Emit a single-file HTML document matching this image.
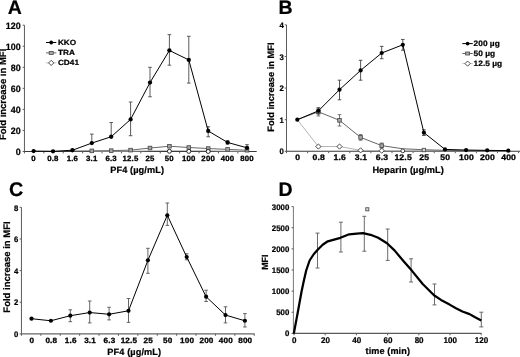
<!DOCTYPE html>
<html><head><meta charset="utf-8"><title>Figure</title>
<style>html,body{margin:0;padding:0;background:#fff;}svg{display:block;will-change:transform;}</style>
</head><body>
<svg width="520" height="357" viewBox="0 0 520 357" font-family="Liberation Sans, sans-serif" font-weight="bold" fill="#000" text-rendering="geometricPrecision">
<style>text{stroke:#000;stroke-width:0.22px;stroke-linejoin:round;}</style>
<rect x="0" y="0" width="520" height="357" fill="#fff"/>
<text x="7.75" y="14.40" font-size="19.5" text-anchor="start" >A</text>
<line x1="24.45" y1="25.20" x2="24.45" y2="151.50" stroke="#5c5c5c" stroke-width="1.0" />
<line x1="23.95" y1="151.50" x2="256.70" y2="151.50" stroke="#3a3a3a" stroke-width="1.1" />
<line x1="22.65" y1="151.50" x2="24.45" y2="151.50" stroke="#5c5c5c" stroke-width="1.0" />
<text transform="translate(20.70,155.11) scale(0.97,1)" font-size="9.2" text-anchor="end" >0</text>
<line x1="22.65" y1="130.45" x2="24.45" y2="130.45" stroke="#5c5c5c" stroke-width="1.0" />
<text transform="translate(20.70,134.06) scale(0.97,1)" font-size="9.2" text-anchor="end" >20</text>
<line x1="22.65" y1="109.40" x2="24.45" y2="109.40" stroke="#5c5c5c" stroke-width="1.0" />
<text transform="translate(20.70,113.01) scale(0.97,1)" font-size="9.2" text-anchor="end" >40</text>
<line x1="22.65" y1="88.35" x2="24.45" y2="88.35" stroke="#5c5c5c" stroke-width="1.0" />
<text transform="translate(20.70,91.96) scale(0.97,1)" font-size="9.2" text-anchor="end" >60</text>
<line x1="22.65" y1="67.30" x2="24.45" y2="67.30" stroke="#5c5c5c" stroke-width="1.0" />
<text transform="translate(20.70,70.91) scale(0.97,1)" font-size="9.2" text-anchor="end" >80</text>
<line x1="22.65" y1="46.25" x2="24.45" y2="46.25" stroke="#5c5c5c" stroke-width="1.0" />
<text transform="translate(20.70,49.86) scale(0.97,1)" font-size="9.2" text-anchor="end" >100</text>
<line x1="22.65" y1="25.20" x2="24.45" y2="25.20" stroke="#5c5c5c" stroke-width="1.0" />
<text transform="translate(20.70,28.81) scale(0.97,1)" font-size="9.2" text-anchor="end" >120</text>
<line x1="24.45" y1="151.50" x2="24.45" y2="153.40" stroke="#5c5c5c" stroke-width="1.0" />
<line x1="43.85" y1="151.50" x2="43.85" y2="153.40" stroke="#5c5c5c" stroke-width="1.0" />
<line x1="63.25" y1="151.50" x2="63.25" y2="153.40" stroke="#5c5c5c" stroke-width="1.0" />
<line x1="82.65" y1="151.50" x2="82.65" y2="153.40" stroke="#5c5c5c" stroke-width="1.0" />
<line x1="102.05" y1="151.50" x2="102.05" y2="153.40" stroke="#5c5c5c" stroke-width="1.0" />
<line x1="121.45" y1="151.50" x2="121.45" y2="153.40" stroke="#5c5c5c" stroke-width="1.0" />
<line x1="140.85" y1="151.50" x2="140.85" y2="153.40" stroke="#5c5c5c" stroke-width="1.0" />
<line x1="160.25" y1="151.50" x2="160.25" y2="153.40" stroke="#5c5c5c" stroke-width="1.0" />
<line x1="179.65" y1="151.50" x2="179.65" y2="153.40" stroke="#5c5c5c" stroke-width="1.0" />
<line x1="199.05" y1="151.50" x2="199.05" y2="153.40" stroke="#5c5c5c" stroke-width="1.0" />
<line x1="218.45" y1="151.50" x2="218.45" y2="153.40" stroke="#5c5c5c" stroke-width="1.0" />
<line x1="237.85" y1="151.50" x2="237.85" y2="153.40" stroke="#5c5c5c" stroke-width="1.0" />
<text transform="translate(33.53,160.65) scale(1.03,1)" font-size="7.6" text-anchor="middle" letter-spacing="0.15" style="stroke-width:0.3px">0</text>
<text transform="translate(52.93,160.65) scale(1.03,1)" font-size="7.6" text-anchor="middle" letter-spacing="0.15" style="stroke-width:0.3px">0.8</text>
<text transform="translate(72.33,160.65) scale(1.03,1)" font-size="7.6" text-anchor="middle" letter-spacing="0.15" style="stroke-width:0.3px">1.6</text>
<text transform="translate(91.73,160.65) scale(1.03,1)" font-size="7.6" text-anchor="middle" letter-spacing="0.15" style="stroke-width:0.3px">3.1</text>
<text transform="translate(111.13,160.65) scale(1.03,1)" font-size="7.6" text-anchor="middle" letter-spacing="0.15" style="stroke-width:0.3px">6.3</text>
<text transform="translate(130.53,160.65) scale(1.03,1)" font-size="7.6" text-anchor="middle" letter-spacing="0.15" style="stroke-width:0.3px">12.5</text>
<text transform="translate(149.93,160.65) scale(1.03,1)" font-size="7.6" text-anchor="middle" letter-spacing="0.15" style="stroke-width:0.3px">25</text>
<text transform="translate(169.33,160.65) scale(1.03,1)" font-size="7.6" text-anchor="middle" letter-spacing="0.15" style="stroke-width:0.3px">50</text>
<text transform="translate(188.73,160.65) scale(1.03,1)" font-size="7.6" text-anchor="middle" letter-spacing="0.15" style="stroke-width:0.3px">100</text>
<text transform="translate(208.13,160.65) scale(1.03,1)" font-size="7.6" text-anchor="middle" letter-spacing="0.15" style="stroke-width:0.3px">200</text>
<text transform="translate(227.53,160.65) scale(1.03,1)" font-size="7.6" text-anchor="middle" letter-spacing="0.15" style="stroke-width:0.3px">400</text>
<text transform="translate(246.93,160.65) scale(1.03,1)" font-size="7.6" text-anchor="middle" letter-spacing="0.15" style="stroke-width:0.3px">800</text>
<text x="137.20" y="173.10" font-size="9.2" text-anchor="middle" letter-spacing="0.1">PF4 (µg/mL)</text>
<text transform="translate(5.50,94.40) rotate(-90)" font-size="9.5" text-anchor="middle">Fold increase in MFI</text>
<polyline points="91.80,151.18 111.20,151.18 130.60,151.08 150.00,150.66 169.40,150.45 188.80,150.55 208.20,150.66 227.60,150.97 247.00,151.08" fill="none" stroke="#bdbdbd" stroke-width="0.9" stroke-linejoin="round" />
<polyline points="72.40,151.08 91.80,150.87 111.20,150.66 130.60,150.13 150.00,148.03 169.40,146.24 188.80,147.50 208.20,148.55 227.60,149.40 247.00,150.24" fill="none" stroke="#686868" stroke-width="1.0" stroke-linejoin="round" />
<rect x="90.00" y="149.07" width="3.6" height="3.6" fill="#a6a6a6" stroke="#4c4c4c" stroke-width="0.85"/>
<rect x="109.40" y="148.86" width="3.6" height="3.6" fill="#a6a6a6" stroke="#4c4c4c" stroke-width="0.85"/>
<rect x="128.80" y="148.33" width="3.6" height="3.6" fill="#a6a6a6" stroke="#4c4c4c" stroke-width="0.85"/>
<rect x="148.20" y="146.23" width="3.6" height="3.6" fill="#a6a6a6" stroke="#4c4c4c" stroke-width="0.85"/>
<rect x="167.60" y="144.44" width="3.6" height="3.6" fill="#a6a6a6" stroke="#4c4c4c" stroke-width="0.85"/>
<rect x="187.00" y="145.70" width="3.6" height="3.6" fill="#a6a6a6" stroke="#4c4c4c" stroke-width="0.85"/>
<rect x="206.40" y="146.75" width="3.6" height="3.6" fill="#a6a6a6" stroke="#4c4c4c" stroke-width="0.85"/>
<rect x="225.80" y="147.59" width="3.6" height="3.6" fill="#a6a6a6" stroke="#4c4c4c" stroke-width="0.85"/>
<rect x="245.20" y="148.44" width="3.6" height="3.6" fill="#a6a6a6" stroke="#4c4c4c" stroke-width="0.85"/>
<circle cx="169.40" cy="151.25" r="2.0" fill="#fff" stroke="#111" stroke-width="0.9"/>
<circle cx="188.80" cy="151.35" r="2.0" fill="#fff" stroke="#111" stroke-width="0.9"/>
<circle cx="208.20" cy="151.46" r="2.0" fill="#fff" stroke="#111" stroke-width="0.9"/>
<line x1="91.80" y1="134.13" x2="91.80" y2="143.08" stroke="#4a4a4a" stroke-width="0.9" />
<line x1="90.00" y1="134.13" x2="93.60" y2="134.13" stroke="#4a4a4a" stroke-width="0.9" />
<line x1="90.00" y1="143.08" x2="93.60" y2="143.08" stroke="#4a4a4a" stroke-width="0.9" />
<line x1="111.20" y1="122.56" x2="111.20" y2="136.76" stroke="#4a4a4a" stroke-width="0.9" />
<line x1="109.40" y1="122.56" x2="113.00" y2="122.56" stroke="#4a4a4a" stroke-width="0.9" />
<line x1="109.40" y1="136.76" x2="113.00" y2="136.76" stroke="#4a4a4a" stroke-width="0.9" />
<line x1="130.60" y1="102.03" x2="130.60" y2="135.71" stroke="#4a4a4a" stroke-width="0.9" />
<line x1="128.80" y1="102.03" x2="132.40" y2="102.03" stroke="#4a4a4a" stroke-width="0.9" />
<line x1="128.80" y1="135.71" x2="132.40" y2="135.71" stroke="#4a4a4a" stroke-width="0.9" />
<line x1="150.00" y1="67.30" x2="150.00" y2="96.77" stroke="#4a4a4a" stroke-width="0.9" />
<line x1="148.20" y1="67.30" x2="151.80" y2="67.30" stroke="#4a4a4a" stroke-width="0.9" />
<line x1="148.20" y1="96.77" x2="151.80" y2="96.77" stroke="#4a4a4a" stroke-width="0.9" />
<line x1="169.40" y1="34.67" x2="169.40" y2="65.20" stroke="#4a4a4a" stroke-width="0.9" />
<line x1="167.60" y1="34.67" x2="171.20" y2="34.67" stroke="#4a4a4a" stroke-width="0.9" />
<line x1="167.60" y1="65.20" x2="171.20" y2="65.20" stroke="#4a4a4a" stroke-width="0.9" />
<line x1="188.80" y1="36.25" x2="188.80" y2="83.09" stroke="#4a4a4a" stroke-width="0.9" />
<line x1="187.00" y1="36.25" x2="190.60" y2="36.25" stroke="#4a4a4a" stroke-width="0.9" />
<line x1="187.00" y1="83.09" x2="190.60" y2="83.09" stroke="#4a4a4a" stroke-width="0.9" />
<line x1="208.20" y1="126.77" x2="208.20" y2="136.76" stroke="#4a4a4a" stroke-width="0.9" />
<line x1="206.40" y1="126.77" x2="210.00" y2="126.77" stroke="#4a4a4a" stroke-width="0.9" />
<line x1="206.40" y1="136.76" x2="210.00" y2="136.76" stroke="#4a4a4a" stroke-width="0.9" />
<line x1="227.60" y1="140.97" x2="227.60" y2="144.13" stroke="#4a4a4a" stroke-width="0.9" />
<line x1="225.80" y1="140.97" x2="229.40" y2="140.97" stroke="#4a4a4a" stroke-width="0.9" />
<line x1="225.80" y1="144.13" x2="229.40" y2="144.13" stroke="#4a4a4a" stroke-width="0.9" />
<line x1="247.00" y1="144.66" x2="247.00" y2="149.92" stroke="#4a4a4a" stroke-width="0.9" />
<line x1="245.20" y1="144.66" x2="248.80" y2="144.66" stroke="#4a4a4a" stroke-width="0.9" />
<line x1="245.20" y1="149.92" x2="248.80" y2="149.92" stroke="#4a4a4a" stroke-width="0.9" />
<polyline points="33.60,151.08 53.00,151.29 72.40,150.24 91.80,143.08 111.20,136.76 130.60,119.40 150.00,82.56 169.40,50.46 188.80,59.93 208.20,130.98 227.60,142.45 247.00,147.82" fill="none" stroke="#000" stroke-width="1.0" stroke-linejoin="round" />
<circle cx="33.60" cy="151.08" r="2.15" fill="#000" stroke="none" stroke-width="0"/>
<circle cx="53.00" cy="151.29" r="2.15" fill="#000" stroke="none" stroke-width="0"/>
<circle cx="72.40" cy="150.24" r="2.15" fill="#000" stroke="none" stroke-width="0"/>
<circle cx="91.80" cy="143.08" r="2.15" fill="#000" stroke="none" stroke-width="0"/>
<circle cx="111.20" cy="136.76" r="2.15" fill="#000" stroke="none" stroke-width="0"/>
<circle cx="130.60" cy="119.40" r="2.15" fill="#000" stroke="none" stroke-width="0"/>
<circle cx="150.00" cy="82.56" r="2.15" fill="#000" stroke="none" stroke-width="0"/>
<circle cx="169.40" cy="50.46" r="2.15" fill="#000" stroke="none" stroke-width="0"/>
<circle cx="188.80" cy="59.93" r="2.15" fill="#000" stroke="none" stroke-width="0"/>
<circle cx="208.20" cy="130.98" r="2.15" fill="#000" stroke="none" stroke-width="0"/>
<circle cx="227.60" cy="142.45" r="2.15" fill="#000" stroke="none" stroke-width="0"/>
<circle cx="247.00" cy="147.82" r="2.15" fill="#000" stroke="none" stroke-width="0"/>
<line x1="46.00" y1="42.50" x2="56.30" y2="42.50" stroke="#000" stroke-width="1.0" />
<circle cx="51.20" cy="42.50" r="1.9" fill="#000" stroke="none" stroke-width="0"/>
<text transform="translate(57.90,44.90) scale(1.1,1)" font-size="7.5" text-anchor="start" >KKO</text>
<line x1="46.00" y1="52.90" x2="56.30" y2="52.90" stroke="#666" stroke-width="1.0" />
<rect x="49.20" y="51.40" width="4.0" height="3.0" fill="#a8a8a8" stroke="#4a4a4a" stroke-width="0.8"/>
<text transform="translate(57.90,55.10) scale(1.1,1)" font-size="7.5" text-anchor="start" >TRA</text>
<line x1="46.00" y1="62.90" x2="56.30" y2="62.90" stroke="#c0c0c0" stroke-width="1.0" />
<path d="M48.60,62.90 L51.20,60.30 L53.80,62.90 L51.20,65.50 Z" fill="#fff" stroke="#222" stroke-width="0.8"/>
<text transform="translate(57.90,65.40) scale(1.1,1)" font-size="7.5" text-anchor="start" >CD41</text>
<text x="278.40" y="14.40" font-size="19.5" text-anchor="start" >B</text>
<line x1="286.50" y1="24.90" x2="286.50" y2="151.30" stroke="#5c5c5c" stroke-width="1.0" />
<line x1="286.00" y1="151.30" x2="520.00" y2="151.30" stroke="#3a3a3a" stroke-width="1.1" />
<line x1="284.70" y1="151.30" x2="286.50" y2="151.30" stroke="#5c5c5c" stroke-width="1.0" />
<text transform="translate(283.70,154.48) scale(0.97,1)" font-size="8" text-anchor="end" >0</text>
<line x1="284.70" y1="119.70" x2="286.50" y2="119.70" stroke="#5c5c5c" stroke-width="1.0" />
<text transform="translate(283.70,122.88) scale(0.97,1)" font-size="8" text-anchor="end" >1</text>
<line x1="284.70" y1="88.10" x2="286.50" y2="88.10" stroke="#5c5c5c" stroke-width="1.0" />
<text transform="translate(283.70,91.28) scale(0.97,1)" font-size="8" text-anchor="end" >2</text>
<line x1="284.70" y1="56.50" x2="286.50" y2="56.50" stroke="#5c5c5c" stroke-width="1.0" />
<text transform="translate(283.70,59.68) scale(0.97,1)" font-size="8" text-anchor="end" >3</text>
<line x1="284.70" y1="24.90" x2="286.50" y2="24.90" stroke="#5c5c5c" stroke-width="1.0" />
<text transform="translate(283.70,28.08) scale(0.97,1)" font-size="8" text-anchor="end" >4</text>
<line x1="286.50" y1="151.30" x2="286.50" y2="153.20" stroke="#5c5c5c" stroke-width="1.0" />
<line x1="307.60" y1="151.30" x2="307.60" y2="153.20" stroke="#5c5c5c" stroke-width="1.0" />
<line x1="328.70" y1="151.30" x2="328.70" y2="153.20" stroke="#5c5c5c" stroke-width="1.0" />
<line x1="349.80" y1="151.30" x2="349.80" y2="153.20" stroke="#5c5c5c" stroke-width="1.0" />
<line x1="370.90" y1="151.30" x2="370.90" y2="153.20" stroke="#5c5c5c" stroke-width="1.0" />
<line x1="392.00" y1="151.30" x2="392.00" y2="153.20" stroke="#5c5c5c" stroke-width="1.0" />
<line x1="413.10" y1="151.30" x2="413.10" y2="153.20" stroke="#5c5c5c" stroke-width="1.0" />
<line x1="434.20" y1="151.30" x2="434.20" y2="153.20" stroke="#5c5c5c" stroke-width="1.0" />
<line x1="455.30" y1="151.30" x2="455.30" y2="153.20" stroke="#5c5c5c" stroke-width="1.0" />
<line x1="476.40" y1="151.30" x2="476.40" y2="153.20" stroke="#5c5c5c" stroke-width="1.0" />
<line x1="497.50" y1="151.30" x2="497.50" y2="153.20" stroke="#5c5c5c" stroke-width="1.0" />
<line x1="518.60" y1="151.30" x2="518.60" y2="153.20" stroke="#5c5c5c" stroke-width="1.0" />
<text transform="translate(297.63,159.50) scale(1.08,1)" font-size="8.0" text-anchor="middle" letter-spacing="0.15" style="stroke-width:0.3px">0</text>
<text transform="translate(318.73,159.50) scale(1.08,1)" font-size="8.0" text-anchor="middle" letter-spacing="0.15" style="stroke-width:0.3px">0.8</text>
<text transform="translate(339.83,159.50) scale(1.08,1)" font-size="8.0" text-anchor="middle" letter-spacing="0.15" style="stroke-width:0.3px">1.6</text>
<text transform="translate(360.93,159.50) scale(1.08,1)" font-size="8.0" text-anchor="middle" letter-spacing="0.15" style="stroke-width:0.3px">3.1</text>
<text transform="translate(382.03,159.50) scale(1.08,1)" font-size="8.0" text-anchor="middle" letter-spacing="0.15" style="stroke-width:0.3px">6.3</text>
<text transform="translate(403.13,159.50) scale(1.08,1)" font-size="8.0" text-anchor="middle" letter-spacing="0.15" style="stroke-width:0.3px">12.5</text>
<text transform="translate(424.23,159.50) scale(1.08,1)" font-size="8.0" text-anchor="middle" letter-spacing="0.15" style="stroke-width:0.3px">25</text>
<text transform="translate(445.33,159.50) scale(1.08,1)" font-size="8.0" text-anchor="middle" letter-spacing="0.15" style="stroke-width:0.3px">50</text>
<text transform="translate(466.43,159.50) scale(1.08,1)" font-size="8.0" text-anchor="middle" letter-spacing="0.15" style="stroke-width:0.3px">100</text>
<text transform="translate(487.53,159.50) scale(1.08,1)" font-size="8.0" text-anchor="middle" letter-spacing="0.15" style="stroke-width:0.3px">200</text>
<text transform="translate(508.63,159.50) scale(1.08,1)" font-size="8.0" text-anchor="middle" letter-spacing="0.15" style="stroke-width:0.3px">400</text>
<text x="408.20" y="172.60" font-size="9.2" text-anchor="middle" letter-spacing="0.1">Heparin (µg/mL)</text>
<text transform="translate(273.90,87.10) rotate(-90)" font-size="9.3" text-anchor="middle">Fold increase in MFI</text>
<polyline points="297.30,119.70 318.40,146.56 339.50,146.56 360.60,150.35 381.70,150.67 402.80,150.67 423.90,150.67 445.00,150.67 466.10,150.67 487.20,150.67 508.30,150.67" fill="none" stroke="#b4b4b4" stroke-width="1.0" stroke-linejoin="round" />
<line x1="318.40" y1="108.32" x2="318.40" y2="115.91" stroke="#666" stroke-width="0.9" />
<line x1="316.60" y1="108.32" x2="320.20" y2="108.32" stroke="#666" stroke-width="0.9" />
<line x1="316.60" y1="115.91" x2="320.20" y2="115.91" stroke="#666" stroke-width="0.9" />
<line x1="339.50" y1="114.64" x2="339.50" y2="126.02" stroke="#666" stroke-width="0.9" />
<line x1="337.70" y1="114.64" x2="341.30" y2="114.64" stroke="#666" stroke-width="0.9" />
<line x1="337.70" y1="126.02" x2="341.30" y2="126.02" stroke="#666" stroke-width="0.9" />
<line x1="360.60" y1="134.55" x2="360.60" y2="140.24" stroke="#666" stroke-width="0.9" />
<line x1="358.80" y1="134.55" x2="362.40" y2="134.55" stroke="#666" stroke-width="0.9" />
<line x1="358.80" y1="140.24" x2="362.40" y2="140.24" stroke="#666" stroke-width="0.9" />
<line x1="381.70" y1="143.08" x2="381.70" y2="148.14" stroke="#666" stroke-width="0.9" />
<line x1="379.90" y1="143.08" x2="383.50" y2="143.08" stroke="#666" stroke-width="0.9" />
<line x1="379.90" y1="148.14" x2="383.50" y2="148.14" stroke="#666" stroke-width="0.9" />
<polyline points="297.30,119.70 318.40,111.80 339.50,120.33 360.60,137.40 381.70,145.61 402.80,148.77 423.90,149.72 445.00,150.35 466.10,150.67 487.20,150.67 508.30,150.67" fill="none" stroke="#666" stroke-width="1.0" stroke-linejoin="round" />
<rect x="316.60" y="110.00" width="3.6" height="3.6" fill="#a6a6a6" stroke="#4c4c4c" stroke-width="0.85"/>
<rect x="337.70" y="118.53" width="3.6" height="3.6" fill="#a6a6a6" stroke="#4c4c4c" stroke-width="0.85"/>
<rect x="358.80" y="135.60" width="3.6" height="3.6" fill="#a6a6a6" stroke="#4c4c4c" stroke-width="0.85"/>
<rect x="379.90" y="143.81" width="3.6" height="3.6" fill="#a6a6a6" stroke="#4c4c4c" stroke-width="0.85"/>
<rect x="422.20" y="148.32" width="3.4" height="3.4" fill="#d4d4d4" stroke="#555" stroke-width="0.9"/>
<path d="M315.80,146.56 L318.40,143.96 L321.00,146.56 L318.40,149.16 Z" fill="#fff" stroke="#222" stroke-width="0.8"/>
<path d="M336.90,146.56 L339.50,143.96 L342.10,146.56 L339.50,149.16 Z" fill="#fff" stroke="#222" stroke-width="0.8"/>
<path d="M358.00,150.35 L360.60,147.75 L363.20,150.35 L360.60,152.95 Z" fill="#fff" stroke="#222" stroke-width="0.8"/>
<path d="M379.10,150.67 L381.70,148.07 L384.30,150.67 L381.70,153.27 Z" fill="#fff" stroke="#222" stroke-width="0.8"/>
<circle cx="402.80" cy="150.87" r="1.9" fill="#fff" stroke="#222" stroke-width="0.85"/>
<line x1="318.40" y1="107.69" x2="318.40" y2="114.01" stroke="#444" stroke-width="0.9" />
<line x1="316.60" y1="107.69" x2="320.20" y2="107.69" stroke="#444" stroke-width="0.9" />
<line x1="316.60" y1="114.01" x2="320.20" y2="114.01" stroke="#444" stroke-width="0.9" />
<line x1="339.50" y1="80.20" x2="339.50" y2="99.79" stroke="#444" stroke-width="0.9" />
<line x1="337.70" y1="80.20" x2="341.30" y2="80.20" stroke="#444" stroke-width="0.9" />
<line x1="337.70" y1="99.79" x2="341.30" y2="99.79" stroke="#444" stroke-width="0.9" />
<line x1="360.60" y1="60.29" x2="360.60" y2="80.20" stroke="#444" stroke-width="0.9" />
<line x1="358.80" y1="60.29" x2="362.40" y2="60.29" stroke="#444" stroke-width="0.9" />
<line x1="358.80" y1="80.20" x2="362.40" y2="80.20" stroke="#444" stroke-width="0.9" />
<line x1="381.70" y1="46.39" x2="381.70" y2="58.71" stroke="#444" stroke-width="0.9" />
<line x1="379.90" y1="46.39" x2="383.50" y2="46.39" stroke="#444" stroke-width="0.9" />
<line x1="379.90" y1="58.71" x2="383.50" y2="58.71" stroke="#444" stroke-width="0.9" />
<line x1="402.80" y1="39.44" x2="402.80" y2="50.18" stroke="#444" stroke-width="0.9" />
<line x1="401.00" y1="39.44" x2="404.60" y2="39.44" stroke="#444" stroke-width="0.9" />
<line x1="401.00" y1="50.18" x2="404.60" y2="50.18" stroke="#444" stroke-width="0.9" />
<line x1="423.90" y1="129.81" x2="423.90" y2="135.50" stroke="#444" stroke-width="0.9" />
<line x1="422.10" y1="129.81" x2="425.70" y2="129.81" stroke="#444" stroke-width="0.9" />
<line x1="422.10" y1="135.50" x2="425.70" y2="135.50" stroke="#444" stroke-width="0.9" />
<polyline points="297.30,119.70 318.40,110.85 339.50,89.68 360.60,70.40 381.70,53.02 402.80,44.81 423.90,132.66 445.00,149.40 466.10,150.04 487.20,150.35 508.30,150.67" fill="none" stroke="#000" stroke-width="1.0" stroke-linejoin="round" />
<circle cx="297.30" cy="119.70" r="2.1" fill="#000" stroke="none" stroke-width="0"/>
<circle cx="318.40" cy="110.85" r="2.1" fill="#000" stroke="none" stroke-width="0"/>
<circle cx="339.50" cy="89.68" r="2.1" fill="#000" stroke="none" stroke-width="0"/>
<circle cx="360.60" cy="70.40" r="2.1" fill="#000" stroke="none" stroke-width="0"/>
<circle cx="381.70" cy="53.02" r="2.1" fill="#000" stroke="none" stroke-width="0"/>
<circle cx="402.80" cy="44.81" r="2.1" fill="#000" stroke="none" stroke-width="0"/>
<circle cx="423.90" cy="132.66" r="2.1" fill="#000" stroke="none" stroke-width="0"/>
<circle cx="445.00" cy="149.40" r="2.1" fill="#000" stroke="none" stroke-width="0"/>
<circle cx="466.10" cy="150.04" r="2.1" fill="#000" stroke="none" stroke-width="0"/>
<circle cx="487.20" cy="150.35" r="2.1" fill="#000" stroke="none" stroke-width="0"/>
<circle cx="508.30" cy="150.67" r="2.1" fill="#000" stroke="none" stroke-width="0"/>
<line x1="462.30" y1="43.60" x2="472.80" y2="43.60" stroke="#000" stroke-width="1.0" />
<circle cx="467.60" cy="43.60" r="1.9" fill="#000" stroke="none" stroke-width="0"/>
<text transform="translate(473.60,45.90) scale(1.07,1)" font-size="7.8" text-anchor="start" >200 µg</text>
<line x1="462.30" y1="53.50" x2="472.80" y2="53.50" stroke="#666" stroke-width="1.0" />
<rect x="465.60" y="52.00" width="4.0" height="3.0" fill="#a8a8a8" stroke="#4a4a4a" stroke-width="0.8"/>
<text transform="translate(473.60,56.10) scale(1.07,1)" font-size="7.8" text-anchor="start" >50 µg</text>
<line x1="462.30" y1="63.60" x2="472.80" y2="63.60" stroke="#c0c0c0" stroke-width="1.0" />
<path d="M465.00,63.60 L467.60,61.00 L470.20,63.60 L467.60,66.20 Z" fill="#fff" stroke="#222" stroke-width="0.8"/>
<text transform="translate(473.60,66.40) scale(1.07,1)" font-size="7.8" text-anchor="start" >12.5 µg</text>
<text x="8.90" y="195.70" font-size="19.8" text-anchor="start" >C</text>
<line x1="21.45" y1="207.34" x2="21.45" y2="333.90" stroke="#5c5c5c" stroke-width="1.0" />
<line x1="20.95" y1="333.90" x2="254.60" y2="333.90" stroke="#666" stroke-width="1.3" />
<line x1="19.65" y1="333.90" x2="21.45" y2="333.90" stroke="#5c5c5c" stroke-width="1.0" />
<text transform="translate(18.40,337.08) scale(0.97,1)" font-size="8" text-anchor="end" >0</text>
<line x1="19.65" y1="302.26" x2="21.45" y2="302.26" stroke="#5c5c5c" stroke-width="1.0" />
<text transform="translate(18.40,305.44) scale(0.97,1)" font-size="8" text-anchor="end" >2</text>
<line x1="19.65" y1="270.62" x2="21.45" y2="270.62" stroke="#5c5c5c" stroke-width="1.0" />
<text transform="translate(18.40,273.80) scale(0.97,1)" font-size="8" text-anchor="end" >4</text>
<line x1="19.65" y1="238.98" x2="21.45" y2="238.98" stroke="#5c5c5c" stroke-width="1.0" />
<text transform="translate(18.40,242.16) scale(0.97,1)" font-size="8" text-anchor="end" >6</text>
<line x1="19.65" y1="207.34" x2="21.45" y2="207.34" stroke="#5c5c5c" stroke-width="1.0" />
<text transform="translate(18.40,210.52) scale(0.97,1)" font-size="8" text-anchor="end" >8</text>
<line x1="21.45" y1="333.90" x2="21.45" y2="335.80" stroke="#5c5c5c" stroke-width="1.0" />
<line x1="40.85" y1="333.90" x2="40.85" y2="335.80" stroke="#5c5c5c" stroke-width="1.0" />
<line x1="60.25" y1="333.90" x2="60.25" y2="335.80" stroke="#5c5c5c" stroke-width="1.0" />
<line x1="79.65" y1="333.90" x2="79.65" y2="335.80" stroke="#5c5c5c" stroke-width="1.0" />
<line x1="99.05" y1="333.90" x2="99.05" y2="335.80" stroke="#5c5c5c" stroke-width="1.0" />
<line x1="118.45" y1="333.90" x2="118.45" y2="335.80" stroke="#5c5c5c" stroke-width="1.0" />
<line x1="137.85" y1="333.90" x2="137.85" y2="335.80" stroke="#5c5c5c" stroke-width="1.0" />
<line x1="157.25" y1="333.90" x2="157.25" y2="335.80" stroke="#5c5c5c" stroke-width="1.0" />
<line x1="176.65" y1="333.90" x2="176.65" y2="335.80" stroke="#5c5c5c" stroke-width="1.0" />
<line x1="196.05" y1="333.90" x2="196.05" y2="335.80" stroke="#5c5c5c" stroke-width="1.0" />
<line x1="215.45" y1="333.90" x2="215.45" y2="335.80" stroke="#5c5c5c" stroke-width="1.0" />
<line x1="234.85" y1="333.90" x2="234.85" y2="335.80" stroke="#5c5c5c" stroke-width="1.0" />
<line x1="254.25" y1="333.90" x2="254.25" y2="335.80" stroke="#5c5c5c" stroke-width="1.0" />
<text transform="translate(31.88,343.05) scale(1.06,1)" font-size="7.7" text-anchor="middle" letter-spacing="0.15" style="stroke-width:0.3px">0</text>
<text transform="translate(51.28,343.05) scale(1.06,1)" font-size="7.7" text-anchor="middle" letter-spacing="0.15" style="stroke-width:0.3px">0.8</text>
<text transform="translate(70.68,343.05) scale(1.06,1)" font-size="7.7" text-anchor="middle" letter-spacing="0.15" style="stroke-width:0.3px">1.6</text>
<text transform="translate(90.08,343.05) scale(1.06,1)" font-size="7.7" text-anchor="middle" letter-spacing="0.15" style="stroke-width:0.3px">3.1</text>
<text transform="translate(109.48,343.05) scale(1.06,1)" font-size="7.7" text-anchor="middle" letter-spacing="0.15" style="stroke-width:0.3px">6.3</text>
<text transform="translate(128.88,343.05) scale(1.06,1)" font-size="7.7" text-anchor="middle" letter-spacing="0.15" style="stroke-width:0.3px">12.5</text>
<text transform="translate(148.28,343.05) scale(1.06,1)" font-size="7.7" text-anchor="middle" letter-spacing="0.15" style="stroke-width:0.3px">25</text>
<text transform="translate(167.68,343.05) scale(1.06,1)" font-size="7.7" text-anchor="middle" letter-spacing="0.15" style="stroke-width:0.3px">50</text>
<text transform="translate(187.08,343.05) scale(1.06,1)" font-size="7.7" text-anchor="middle" letter-spacing="0.15" style="stroke-width:0.3px">100</text>
<text transform="translate(206.48,343.05) scale(1.06,1)" font-size="7.7" text-anchor="middle" letter-spacing="0.15" style="stroke-width:0.3px">200</text>
<text transform="translate(225.88,343.05) scale(1.06,1)" font-size="7.7" text-anchor="middle" letter-spacing="0.15" style="stroke-width:0.3px">400</text>
<text transform="translate(245.28,343.05) scale(1.06,1)" font-size="7.7" text-anchor="middle" letter-spacing="0.15" style="stroke-width:0.3px">800</text>
<text x="134.30" y="354.50" font-size="9.2" text-anchor="middle" letter-spacing="0.1">PF4 (µg/mL)</text>
<text transform="translate(10.40,267.00) rotate(-90)" font-size="9.5" text-anchor="middle">Fold increase in MFI</text>
<line x1="70.30" y1="309.80" x2="70.30" y2="321.70" stroke="#555" stroke-width="0.9" />
<line x1="68.50" y1="309.80" x2="72.10" y2="309.80" stroke="#555" stroke-width="0.9" />
<line x1="68.50" y1="321.70" x2="72.10" y2="321.70" stroke="#555" stroke-width="0.9" />
<line x1="89.70" y1="301.00" x2="89.70" y2="322.90" stroke="#555" stroke-width="0.9" />
<line x1="87.90" y1="301.00" x2="91.50" y2="301.00" stroke="#555" stroke-width="0.9" />
<line x1="87.90" y1="322.90" x2="91.50" y2="322.90" stroke="#555" stroke-width="0.9" />
<line x1="109.10" y1="307.30" x2="109.10" y2="319.90" stroke="#555" stroke-width="0.9" />
<line x1="107.30" y1="307.30" x2="110.90" y2="307.30" stroke="#555" stroke-width="0.9" />
<line x1="107.30" y1="319.90" x2="110.90" y2="319.90" stroke="#555" stroke-width="0.9" />
<line x1="128.50" y1="298.50" x2="128.50" y2="322.40" stroke="#555" stroke-width="0.9" />
<line x1="126.70" y1="298.50" x2="130.30" y2="298.50" stroke="#555" stroke-width="0.9" />
<line x1="126.70" y1="322.40" x2="130.30" y2="322.40" stroke="#555" stroke-width="0.9" />
<line x1="147.90" y1="248.30" x2="147.90" y2="273.30" stroke="#555" stroke-width="0.9" />
<line x1="146.10" y1="248.30" x2="149.70" y2="248.30" stroke="#555" stroke-width="0.9" />
<line x1="146.10" y1="273.30" x2="149.70" y2="273.30" stroke="#555" stroke-width="0.9" />
<line x1="167.30" y1="203.00" x2="167.30" y2="225.40" stroke="#555" stroke-width="0.9" />
<line x1="165.50" y1="203.00" x2="169.10" y2="203.00" stroke="#555" stroke-width="0.9" />
<line x1="165.50" y1="225.40" x2="169.10" y2="225.40" stroke="#555" stroke-width="0.9" />
<line x1="186.70" y1="253.80" x2="186.70" y2="259.80" stroke="#555" stroke-width="0.9" />
<line x1="184.90" y1="253.80" x2="188.50" y2="253.80" stroke="#555" stroke-width="0.9" />
<line x1="184.90" y1="259.80" x2="188.50" y2="259.80" stroke="#555" stroke-width="0.9" />
<line x1="206.10" y1="290.20" x2="206.10" y2="301.50" stroke="#555" stroke-width="0.9" />
<line x1="204.30" y1="290.20" x2="207.90" y2="290.20" stroke="#555" stroke-width="0.9" />
<line x1="204.30" y1="301.50" x2="207.90" y2="301.50" stroke="#555" stroke-width="0.9" />
<line x1="225.50" y1="306.80" x2="225.50" y2="322.90" stroke="#555" stroke-width="0.9" />
<line x1="223.70" y1="306.80" x2="227.30" y2="306.80" stroke="#555" stroke-width="0.9" />
<line x1="223.70" y1="322.90" x2="227.30" y2="322.90" stroke="#555" stroke-width="0.9" />
<line x1="244.90" y1="313.60" x2="244.90" y2="327.00" stroke="#555" stroke-width="0.9" />
<line x1="243.10" y1="313.60" x2="246.70" y2="313.60" stroke="#555" stroke-width="0.9" />
<line x1="243.10" y1="327.00" x2="246.70" y2="327.00" stroke="#555" stroke-width="0.9" />
<polyline points="31.50,318.71 50.90,320.77 70.30,315.71 89.70,312.54 109.10,314.28 128.50,310.80 147.90,260.34 167.30,215.25 186.70,257.01 206.10,296.72 225.50,315.07 244.90,320.77" fill="none" stroke="#000" stroke-width="1.0" stroke-linejoin="round" />
<circle cx="31.50" cy="318.71" r="2.1" fill="#000" stroke="none" stroke-width="0"/>
<circle cx="50.90" cy="320.77" r="2.1" fill="#000" stroke="none" stroke-width="0"/>
<circle cx="70.30" cy="315.71" r="2.1" fill="#000" stroke="none" stroke-width="0"/>
<circle cx="89.70" cy="312.54" r="2.1" fill="#000" stroke="none" stroke-width="0"/>
<circle cx="109.10" cy="314.28" r="2.1" fill="#000" stroke="none" stroke-width="0"/>
<circle cx="128.50" cy="310.80" r="2.1" fill="#000" stroke="none" stroke-width="0"/>
<circle cx="147.90" cy="260.34" r="2.1" fill="#000" stroke="none" stroke-width="0"/>
<circle cx="167.30" cy="215.25" r="2.1" fill="#000" stroke="none" stroke-width="0"/>
<circle cx="186.70" cy="257.01" r="2.1" fill="#000" stroke="none" stroke-width="0"/>
<circle cx="206.10" cy="296.72" r="2.1" fill="#000" stroke="none" stroke-width="0"/>
<circle cx="225.50" cy="315.07" r="2.1" fill="#000" stroke="none" stroke-width="0"/>
<circle cx="244.90" cy="320.77" r="2.1" fill="#000" stroke="none" stroke-width="0"/>
<text x="278.40" y="195.50" font-size="19.5" text-anchor="start" >D</text>
<line x1="293.40" y1="206.59" x2="293.40" y2="333.40" stroke="#777" stroke-width="1.0" />
<line x1="292.90" y1="333.40" x2="481.50" y2="333.40" stroke="#5a5a5a" stroke-width="1.1" />
<line x1="291.60" y1="333.40" x2="293.40" y2="333.40" stroke="#5c5c5c" stroke-width="1.0" />
<text transform="translate(289.30,335.62) scale(0.98,1)" font-size="8" text-anchor="end" >0</text>
<line x1="291.60" y1="312.26" x2="293.40" y2="312.26" stroke="#5c5c5c" stroke-width="1.0" />
<text transform="translate(289.30,314.65) scale(0.98,1)" font-size="8" text-anchor="end" >500</text>
<line x1="291.60" y1="291.13" x2="293.40" y2="291.13" stroke="#5c5c5c" stroke-width="1.0" />
<text transform="translate(289.30,293.69) scale(0.98,1)" font-size="8" text-anchor="end" >1000</text>
<line x1="291.60" y1="270.00" x2="293.40" y2="270.00" stroke="#5c5c5c" stroke-width="1.0" />
<text transform="translate(289.30,272.72) scale(0.98,1)" font-size="8" text-anchor="end" >1500</text>
<line x1="291.60" y1="248.86" x2="293.40" y2="248.86" stroke="#5c5c5c" stroke-width="1.0" />
<text transform="translate(289.30,251.75) scale(0.98,1)" font-size="8" text-anchor="end" >2000</text>
<line x1="291.60" y1="227.72" x2="293.40" y2="227.72" stroke="#5c5c5c" stroke-width="1.0" />
<text transform="translate(289.30,230.79) scale(0.98,1)" font-size="8" text-anchor="end" >2500</text>
<line x1="291.60" y1="206.59" x2="293.40" y2="206.59" stroke="#5c5c5c" stroke-width="1.0" />
<text transform="translate(289.30,209.82) scale(0.98,1)" font-size="8" text-anchor="end" >3000</text>
<line x1="294.00" y1="333.40" x2="294.00" y2="335.30" stroke="#5c5c5c" stroke-width="1.0" />
<text transform="translate(294.30,342.80) scale(0.97,1)" font-size="8.3" text-anchor="middle" >0</text>
<line x1="325.20" y1="333.40" x2="325.20" y2="335.30" stroke="#5c5c5c" stroke-width="1.0" />
<text transform="translate(325.50,342.80) scale(0.97,1)" font-size="8.3" text-anchor="middle" >20</text>
<line x1="356.40" y1="333.40" x2="356.40" y2="335.30" stroke="#5c5c5c" stroke-width="1.0" />
<text transform="translate(356.70,342.80) scale(0.97,1)" font-size="8.3" text-anchor="middle" >40</text>
<line x1="387.60" y1="333.40" x2="387.60" y2="335.30" stroke="#5c5c5c" stroke-width="1.0" />
<text transform="translate(387.90,342.80) scale(0.97,1)" font-size="8.3" text-anchor="middle" >60</text>
<line x1="418.80" y1="333.40" x2="418.80" y2="335.30" stroke="#5c5c5c" stroke-width="1.0" />
<text transform="translate(419.10,342.80) scale(0.97,1)" font-size="8.3" text-anchor="middle" >80</text>
<line x1="450.00" y1="333.40" x2="450.00" y2="335.30" stroke="#5c5c5c" stroke-width="1.0" />
<text transform="translate(450.30,342.80) scale(0.97,1)" font-size="8.3" text-anchor="middle" >100</text>
<line x1="481.20" y1="333.40" x2="481.20" y2="335.30" stroke="#5c5c5c" stroke-width="1.0" />
<text transform="translate(481.50,342.80) scale(0.97,1)" font-size="8.3" text-anchor="middle" >120</text>
<text x="387.80" y="354.30" font-size="9.1" text-anchor="middle" letter-spacing="0.1">time (min)</text>
<text transform="translate(267.70,262.20) rotate(-90)" font-size="8.9" text-anchor="middle">MFI</text>
<line x1="317.50" y1="233.10" x2="317.50" y2="268.00" stroke="#5a5a5a" stroke-width="0.9" />
<line x1="315.50" y1="233.10" x2="319.50" y2="233.10" stroke="#5a5a5a" stroke-width="0.9" />
<line x1="315.50" y1="268.00" x2="319.50" y2="268.00" stroke="#5a5a5a" stroke-width="0.9" />
<line x1="340.90" y1="222.20" x2="340.90" y2="252.00" stroke="#5a5a5a" stroke-width="0.9" />
<line x1="338.90" y1="222.20" x2="342.90" y2="222.20" stroke="#5a5a5a" stroke-width="0.9" />
<line x1="338.90" y1="252.00" x2="342.90" y2="252.00" stroke="#5a5a5a" stroke-width="0.9" />
<line x1="364.30" y1="216.30" x2="364.30" y2="251.20" stroke="#5a5a5a" stroke-width="0.9" />
<line x1="362.30" y1="216.30" x2="366.30" y2="216.30" stroke="#5a5a5a" stroke-width="0.9" />
<line x1="362.30" y1="251.20" x2="366.30" y2="251.20" stroke="#5a5a5a" stroke-width="0.9" />
<line x1="387.70" y1="229.00" x2="387.70" y2="260.40" stroke="#5a5a5a" stroke-width="0.9" />
<line x1="385.70" y1="229.00" x2="389.70" y2="229.00" stroke="#5a5a5a" stroke-width="0.9" />
<line x1="385.70" y1="260.40" x2="389.70" y2="260.40" stroke="#5a5a5a" stroke-width="0.9" />
<line x1="411.10" y1="258.80" x2="411.10" y2="282.00" stroke="#5a5a5a" stroke-width="0.9" />
<line x1="409.10" y1="258.80" x2="413.10" y2="258.80" stroke="#5a5a5a" stroke-width="0.9" />
<line x1="409.10" y1="282.00" x2="413.10" y2="282.00" stroke="#5a5a5a" stroke-width="0.9" />
<line x1="434.50" y1="284.00" x2="434.50" y2="304.90" stroke="#5a5a5a" stroke-width="0.9" />
<line x1="432.50" y1="284.00" x2="436.50" y2="284.00" stroke="#5a5a5a" stroke-width="0.9" />
<line x1="432.50" y1="304.90" x2="436.50" y2="304.90" stroke="#5a5a5a" stroke-width="0.9" />
<line x1="481.30" y1="312.20" x2="481.30" y2="326.90" stroke="#5a5a5a" stroke-width="0.9" />
<line x1="479.30" y1="312.20" x2="483.30" y2="312.20" stroke="#5a5a5a" stroke-width="0.9" />
<line x1="479.30" y1="326.90" x2="483.30" y2="326.90" stroke="#5a5a5a" stroke-width="0.9" />
<polyline points="293.80,333.60 297.80,312.20 301.60,291.20 303.90,280.60 306.20,270.50 309.60,260.50 313.90,254.00 317.70,249.80 322.70,244.80 327.80,241.30 334.10,239.60 340.40,237.80 349.20,234.30 356.80,233.60 363.00,233.20 370.60,234.80 378.20,237.80 387.00,243.30 394.50,250.40 403.40,261.00 411.80,270.60 422.70,284.00 434.00,295.30 441.00,299.90 449.60,304.60 456.00,308.30 462.40,311.50 469.60,314.10 475.10,317.30 481.30,320.50" fill="none" stroke="#000" stroke-width="2.25" stroke-linejoin="round" stroke-linecap="butt"/>
<rect x="365.75" y="207.75" width="3.1" height="3.1" fill="#d8d8d8" stroke="#4a4a4a" stroke-width="0.85"/>
</svg>
</body></html>
